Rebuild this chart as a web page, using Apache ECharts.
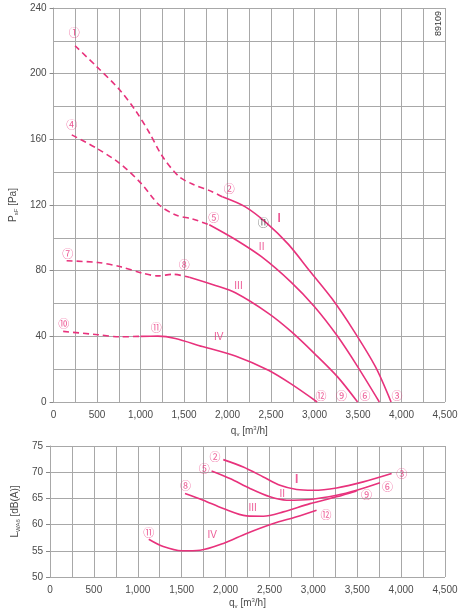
<!DOCTYPE html>
<html>
<head>
<meta charset="utf-8">
<script src="https://cdn.jsdelivr.net/npm/echarts@6/dist/echarts.min.js"></script>
<style>html,body{margin:0;padding:0;background:#fff}#c{width:476px;height:613px}</style>
</head>
<body>
<div id="c"></div>
<script>
// ---- Pressure curves (top chart): [q_v m3/h, p_sF Pa]
var pI_dash   = [[247,217],[494,204.4],[759,190.2],[949,177],[1101,164],[1253,149.5],[1443,137.3],[1595,132.8],[1823,128.1],[1940,125]];
var pI_solid  = [[1940,125],[2200,119],[2450,109],[2700,96],[2950,79.5],[3200,63],[3450,43.5],[3700,21.5],[3880,0]];
var pII_dash  = [[209,162.7],[494,154.6],[759,145.4],[1006,133.2],[1215,120],[1405,113.9],[1595,111.5],[1790,108]];
var pII_solid = [[1790,108],[2090,99],[2390,88.5],[2730,73],[3000,58],[3265,40],[3490,22],[3745,0]];
var pIII_dash = [[150,86],[510,85],[760,82.5],[1020,78.5],[1200,76.8],[1370,77.8],[1560,76]];
var pIII_solid= [[1560,76],[1860,71],[2090,66.5],[2470,54],[2730,43],[3000,29.5],[3265,15.3],[3495,0]];
var pIV_dash  = [[110,43],[510,41],[760,39.7],[1000,40]];
var pIV_solid = [[1000,40],[1200,40.1],[1400,38.7],[1710,33.8],[2090,28],[2470,19.3],[2730,11],[3030,0]];

// ---- Sound power curves (bottom chart): [q_v m3/h, L_WA6 dB(A)]
var lI   = [[1974,72.4],[2202,71.0],[2430,69.1],[2620,67.5],[2810,66.7],[2999,66.56],[3265,67.0],[3569,68.15],[3892,69.74]];
var lII  = [[1841,70.24],[2050,68.8],[2278,66.9],[2506,65.3],[2696,64.66],[2962,64.8],[3265,65.6],[3493,66.56],[3759,68.0]];
var lIII = [[1538,65.93],[1746,64.66],[1974,63.07],[2240,61.67],[2430,61.6],[2658,62.43],[2962,64.0],[3265,65.3],[3493,66.43]];
var lIV  = [[1125,57.2],[1290,55.8],[1500,55],[1710,55.1],[1975,56.4],[2240,58.3],[2545,60.2],[2810,61.5],[3037,62.75]];

// ---- Annotation labels [x, y, text]
var topNums = [[239,225,'①'],[2020,130,'②'],[3949,3.7,'③'],[209,169,'④'],[1841,112.5,'⑤'],[3580,3.7,'⑥'],
               [163,90.5,'⑦'],[1503,83.6,'⑧'],[3311,3.7,'⑨'],[118,47.8,'⑩'],[1181,45.2,'⑪'],[3075,3.7,'⑫']];
var topRoman = [[2593,111.5,'I'],[2392,94.2,'II'],[2126,70.6,'III'],[1898,39.3,'IV']];
var topMark = [[2411,109.4,'⑪']];
var botNums = [[1879,72.9,'②'],[4006,69.6,'③'],[1758,70.7,'⑤'],[3846,67.3,'⑥'],[1545,67.4,'⑧'],
               [3607,65.6,'⑨'],[1124,58.5,'⑪'],[3144,61.8,'⑫']];
var botRoman = [[2810,68.5,'I'],[2646,65.8,'II'],[2308,63.2,'III'],[1849,57.9,'IV']];

var docNo = '89109';

var PINK = '#e8327c';
var GRID = '#a8a8a8';
var TXT = '#4a4a4a';
var FONT = 'Liberation Sans, Arial, sans-serif';
var CIRC = 'Noto Sans CJK JP, Noto Sans CJK SC, sans-serif';

function line(data, xi, dashed) {
  return {type:'line', xAxisIndex:xi, yAxisIndex:xi, data:data, smooth:0.3,
    showSymbol:false, symbol:'none', silent:true,
    lineStyle:{color:PINK, width:1.6, type: dashed ? [6,4] : 'solid'}, z:3};
}
function labels(data, xi, color, size, weight, family) {
  return {type:'scatter', xAxisIndex:xi, yAxisIndex:xi, symbolSize:0, silent:true, z:5,
    data:data.map(function(d){return {value:[d[0],d[1]], name:d[2]};}),
    label:{show:true, position:'inside', formatter:function(p){return p.name;},
      color:color, fontSize:size, fontWeight:weight||'normal', fontFamily:family||FONT}};
}
function fmt(v){ return v >= 1000 ? Math.floor(v/1000) + ',' + String(v%1000).padStart(3,'0') : String(v); }

function xAxis(gi) {
  return {type:'value', gridIndex:gi, min:0, max:4500, interval:500,
    axisLine:{show:false}, axisTick:{show:false},
    axisLabel:{color:TXT, fontSize:10, fontFamily:FONT, margin:8, formatter:fmt},
    splitLine:{show:true, lineStyle:{color:GRID, width:1}},
    minorTick:{show:false, splitNumber:2},
    minorSplitLine:{show:true, lineStyle:{color:GRID, width:1}},
    name:'{n|q}{s|v}{n| [m}{p|3}{n|/h]}', nameLocation:'middle', nameGap:gi===0?22:20,
    nameTextStyle:{rich:{n:{color:TXT,fontSize:10,fontFamily:FONT},
                         s:{color:TXT,fontSize:6,fontFamily:FONT,verticalAlign:'bottom',padding:[6,0,0,0]},
                         p:{color:TXT,fontSize:6,fontFamily:FONT,verticalAlign:'top',padding:[0,0,5,0]}}}
  };
}

var option = {
  animation:false,
  backgroundColor:'#fff',
  grid:[{left:50, top:8, right:31, bottom:211},{left:50, top:446, right:31, bottom:36}],
  xAxis:[xAxis(0), xAxis(1)],
  yAxis:[
    {type:'value', gridIndex:0, min:0, max:240, interval:40,
     axisLine:{show:true, lineStyle:{color:GRID}}, axisTick:{show:true, length:4, lineStyle:{color:'#888'}},
     axisLabel:{color:TXT, fontSize:10, fontFamily:FONT, margin:7},
     splitLine:{show:true, lineStyle:{color:GRID, width:1}},
     minorTick:{show:false, splitNumber:2},
     minorSplitLine:{show:true, lineStyle:{color:GRID, width:1}},
     name:'{n|P}{s|sF}{n| [Pa]}', nameLocation:'middle', nameGap:32,
     nameTextStyle:{rich:{n:{color:TXT,fontSize:10,fontFamily:FONT},
                          s:{color:TXT,fontSize:6,fontFamily:FONT,verticalAlign:'bottom',padding:[6,0,0,0]}}}},
    {type:'value', gridIndex:1, min:50, max:75, interval:5,
     axisLine:{show:true, lineStyle:{color:GRID}}, axisTick:{show:true, length:4, lineStyle:{color:'#888'}},
     axisLabel:{color:TXT, fontSize:10, fontFamily:FONT, margin:7},
     splitLine:{show:true, lineStyle:{color:GRID, width:1}},
     name:'{n|L}{s|WA6}{n| [dB(A)]}', nameLocation:'middle', nameGap:28,
     nameTextStyle:{rich:{n:{color:TXT,fontSize:10,fontFamily:FONT},
                          s:{color:TXT,fontSize:6,fontFamily:FONT,verticalAlign:'bottom',padding:[6,0,0,0]}}}}
  ],
  graphic:[{type:'text', x:438.5, y:23.5, rotation:Math.PI/2,
    style:{text:docNo, fill:'#333', font:'9px Liberation Sans, Arial, sans-serif', align:'center', verticalAlign:'middle'}}],
  series:[
    line(pI_dash,0,true), line(pI_solid,0,false),
    line(pII_dash,0,true), line(pII_solid,0,false),
    line(pIII_dash,0,true), line(pIII_solid,0,false),
    line(pIV_dash,0,true), line(pIV_solid,0,false),
    line(lI,1,false), line(lII,1,false), line(lIII,1,false), line(lIV,1,false),
    labels(topNums,0,PINK,11,'normal',CIRC),
    labels(topRoman.slice(0,1),0,PINK,12,'bold'),
    labels(topRoman.slice(1),0,PINK,10),
    labels(topMark,0,'#333',11,'normal',CIRC),
    labels(botNums,1,PINK,11,'normal',CIRC),
    labels(botRoman.slice(0,1),1,PINK,12,'bold'),
    labels(botRoman.slice(1),1,PINK,10)
  ]
};
var chart = echarts.init(document.getElementById('c'), null, {renderer:'canvas'});
chart.setOption(option);
</script>
</body>
</html>
